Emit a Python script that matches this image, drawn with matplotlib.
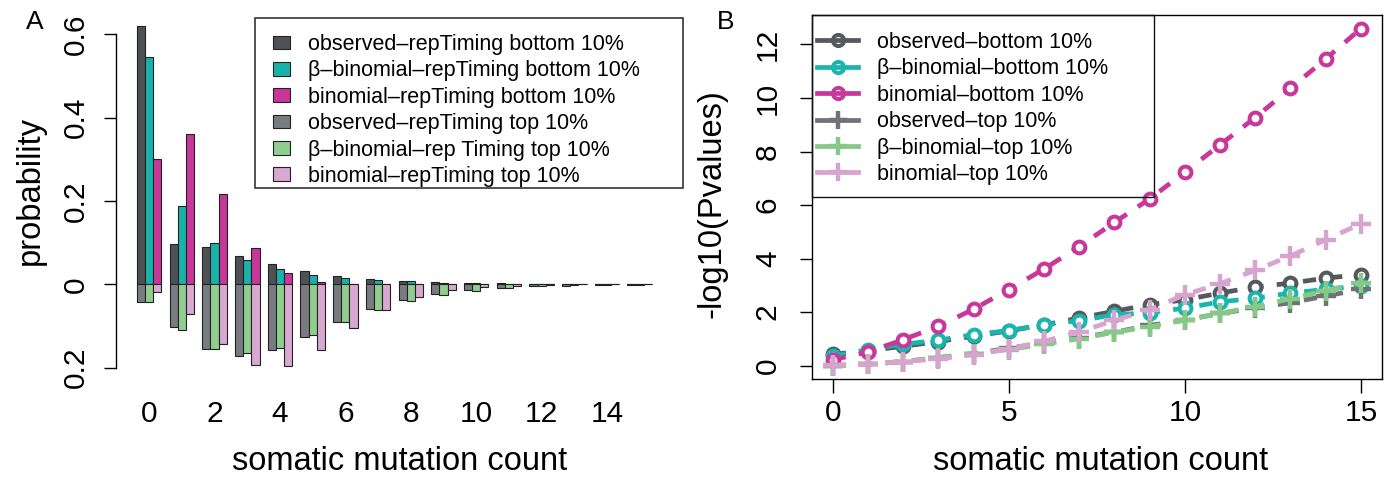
import numpy as np
import matplotlib
matplotlib.use("Agg")
import matplotlib.pyplot as plt
from matplotlib.lines import Line2D
from matplotlib.patches import Rectangle

plt.rcParams['font.family'] = ['Liberation Sans', 'DejaVu Sans']

# ---- data: panel A (probability of somatic mutation count) ----
counts = np.arange(16)
obs_bottom   = [0.620, 0.096, 0.089, 0.069, 0.049, 0.031, 0.020, 0.013, 0.007, 0.005, 0.003, 0.002, 0.001, 0.001, 0.001, 0.001]
bbin_bottom  = [0.546, 0.189, 0.100, 0.058, 0.037, 0.022, 0.016, 0.010, 0.007, 0.004, 0.002, 0.001, 0.001, 0.0005, 0.0005, 0.0005]
binom_bottom = [0.301, 0.362, 0.218, 0.086, 0.026, 0.006, 0.001, 0.0003, 0.0001, 0.0, 0.0, 0.0, 0.0, 0.0, 0.0, 0.0]
obs_top      = [0.043, 0.103, 0.156, 0.172, 0.157, 0.126, 0.090, 0.060, 0.038, 0.023, 0.014, 0.010, 0.005, 0.003, 0.002, 0.001]
bbin_top     = [0.043, 0.109, 0.155, 0.166, 0.152, 0.122, 0.090, 0.062, 0.040, 0.025, 0.015, 0.008, 0.004, 0.002, 0.001, 0.001]
binom_top    = [0.018, 0.071, 0.144, 0.194, 0.196, 0.158, 0.106, 0.062, 0.030, 0.014, 0.006, 0.003, 0.001, 0.0, 0.0, 0.0]

bar_labels = ["observed\u2013repTiming bottom 10%", "\u03b2\u2013binomial\u2013repTiming bottom 10%",
              "binomial\u2013repTiming bottom 10%", "observed\u2013repTiming top 10%",
              "\u03b2\u2013binomial\u2013rep Timing top 10%", "binomial\u2013repTiming top 10%"]
bar_colors = ["#4e5156", "#17b3aa", "#c7379a", "#787b80", "#8fce8f", "#d9a8d1"]

# ---- data: panel B (-log10 p-values) ----
pv_x = np.arange(16)
pv_obs_bottom   = [0.42, 0.56, 0.72, 0.90, 1.10, 1.30, 1.52, 1.78, 2.03, 2.28, 2.46, 2.71, 2.94, 3.08, 3.27, 3.40]
pv_bbin_bottom  = [0.35, 0.60, 0.80, 0.95, 1.16, 1.31, 1.53, 1.68, 1.90, 1.97, 2.15, 2.38, 2.52, 2.71, 2.85, 2.98]
pv_binom_bottom = [0.22, 0.51, 0.97, 1.47, 2.11, 2.84, 3.61, 4.45, 5.35, 6.23, 7.23, 8.25, 9.27, 10.36, 11.46, 12.59]
pv_obs_top      = [0.00, 0.05, 0.15, 0.30, 0.45, 0.65, 0.85, 1.05, 1.25, 1.50, 1.70, 1.95, 2.15, 2.35, 2.60, 2.85]
pv_bbin_top     = [0.00, 0.05, 0.15, 0.30, 0.45, 0.60, 0.80, 1.00, 1.25, 1.45, 1.70, 1.95, 2.20, 2.50, 2.80, 3.10]
pv_binom_top    = [0.02, 0.05, 0.15, 0.25, 0.41, 0.62, 0.91, 1.26, 1.69, 2.09, 2.65, 3.06, 3.56, 4.10, 4.70, 5.30]

line_labels = ["observed\u2013bottom 10%", "\u03b2\u2013binomial\u2013bottom 10%", "binomial\u2013bottom 10%",
               "observed\u2013top 10%", "\u03b2\u2013binomial\u2013top 10%", "binomial\u2013top 10%"]
line_colors = ["#55585d", "#1ab5ad", "#c8389b", "#6f7277", "#86c987", "#d9a3cf"]
line_markers = ["o", "o", "o", "+", "+", "+"]

W, H = 1391, 482
fig = plt.figure(figsize=(W / 100, H / 100), dpi=100)

def px_rect(left, top, right, bottom):
	return [left / W, 1 - bottom / H, (right - left) / W, (bottom - top) / H]

# ================= panel A =================
axA = fig.add_axes(px_rect(116.3, 21.1, 672.6, 380.9))
bottoms = [obs_bottom, bbin_bottom, binom_bottom]
tops = [obs_top, bbin_top, binom_top]
for j in range(3):
	xs = 1 + 4 * counts + j
	axA.bar(xs, bottoms[j], width=1, align='edge', color=bar_colors[j],
			edgecolor='#222222', linewidth=0.8)
for j in range(3):
	xs = 1 + 4 * counts + j
	axA.bar(xs, -np.array(tops[j]), width=1, align='edge', color=bar_colors[j + 3],
			edgecolor='#222222', linewidth=0.8)

axA.set_xlim(-1.52, 66.52)
axA.set_ylim(-0.232, 0.632)
for s in ['top', 'right', 'bottom']:
	axA.spines[s].set_visible(False)
axA.spines['left'].set_bounds(-0.2, 0.6)
axA.spines['left'].set_linewidth(1.0)
axA.set_yticks([-0.2, 0, 0.2, 0.4, 0.6])
axA.set_yticklabels(["0.2", "0", "0.2", "0.4", "0.6"], rotation=90, va='center')
axA.set_xticks(2.5 + 4 * counts[::2])
axA.set_xticklabels([str(c) for c in counts[::2]])
axA.tick_params(axis='y', length=9, width=1.0, pad=10.3, labelsize=21.5)
axA.tick_params(axis='x', length=0, pad=13.7, labelsize=21.5)

handlesA = [Rectangle((0, 0), 1, 1, facecolor=c, edgecolor='#222222', linewidth=0.8) for c in bar_colors]
fig.legend(handlesA, bar_labels, loc='upper left', bbox_to_anchor=(273 / W, 1 - 34 / H),
		   frameon=False, fontsize=15.5, borderpad=0, borderaxespad=0,
		   handlelength=0.8, handleheight=0.6, handletextpad=0.84, labelspacing=0.25)
fig.patches.append(Rectangle((255 / W, 1 - 188 / H), (683 - 255) / W, (188 - 18) / H,
							 transform=fig.transFigure, fill=False, edgecolor='#333333', linewidth=1.2))

# ================= panel B =================
axB = fig.add_axes(px_rect(811.7, 15, 1382, 379))
series = [pv_obs_bottom, pv_bbin_bottom, pv_binom_bottom, pv_obs_top, pv_bbin_top, pv_binom_top]
for k in range(6):
	if line_markers[k] == 'o':
		axB.plot(pv_x, series[k], color=line_colors[k], lw=3.4, dashes=(2.8, 2.8),
				 marker='o', ms=8.5, mfc='white', mec=line_colors[k], mew=2.9)
	else:
		axB.plot(pv_x, series[k], color=line_colors[k], lw=3.4, dashes=(2.8, 2.8),
				 marker='+', ms=14, mew=3.2)

axB.set_xlim(-0.6, 15.6)
axB.set_ylim(-0.5, 13.1)
axB.set_xticks([0, 5, 10, 15])
axB.set_yticks(np.arange(0, 13, 2))
axB.set_yticklabels([str(v) for v in range(0, 13, 2)], rotation=90, va='center')
axB.tick_params(axis='x', length=10, width=1.0, pad=4.3, labelsize=21.5)
axB.tick_params(axis='y', length=9, width=1.0, pad=12.4, labelsize=21.5)
for s in axB.spines.values():
	s.set_linewidth(1.0)

handlesB = []
for k in range(6):
	if line_markers[k] == 'o':
		handlesB.append(Line2D([], [], color=line_colors[k], lw=3.4, marker='o', ms=8,
							   mfc='none', mec=line_colors[k], mew=2.9))
	else:
		handlesB.append(Line2D([], [], color=line_colors[k], lw=3.4, marker='+', ms=13, mew=3.2))
fig.legend(handlesB, line_labels, loc='upper left', bbox_to_anchor=(816.8 / W, 1 - 32 / H),
		   frameon=False, fontsize=15.5, borderpad=0, borderaxespad=0, numpoints=1,
		   handlelength=1.93, handletextpad=0.88, labelspacing=0.25)
fig.patches.append(Rectangle((811.7 / W, 1 - 197 / H), (1153.8 - 811.7) / W, (197 - 15) / H,
							 transform=fig.transFigure, fill=False, edgecolor='#111111', linewidth=1.0))

# ---- axis titles and panel letters ----
fig.text(400 / W, 1 - 462 / H, "somatic mutation count", fontsize=23.5, ha='center', va='center')
fig.text(1101 / W, 1 - 462 / H, "somatic mutation count", fontsize=23.5, ha='center', va='center')
fig.text(30 / W, 1 - 191 / H, "probability", fontsize=23.5, ha='center', va='center', rotation=90)
fig.text(712 / W, 1 - 204 / H, "-log10(Pvalues)", fontsize=23.5, ha='center', va='center', rotation=90)
fig.text(35 / W, 1 - 22 / H, "A", fontsize=19, ha='center', va='center')
fig.text(726 / W, 1 - 22 / H, "B", fontsize=19, ha='center', va='center')

plt.savefig('out.png', dpi=100)
plt.close(fig)
